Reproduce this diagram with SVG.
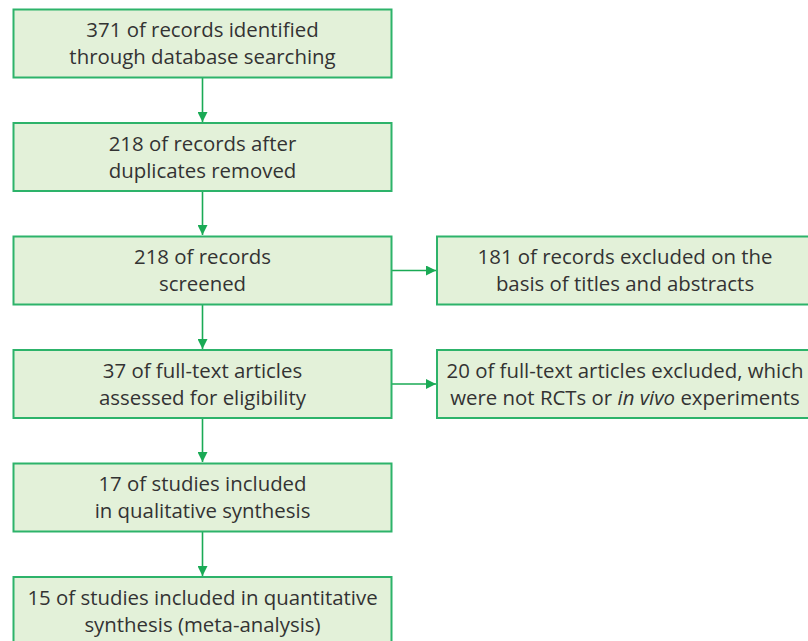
<svg xmlns="http://www.w3.org/2000/svg" width="808" height="641" viewBox="0 0 808 641">
<style>
.box{fill:#e3f1d9;stroke:#2db36a;stroke-width:2}
.t{font-family:"Open Sans","Noto Sans",sans-serif;font-size:20.4px;fill:#333;text-anchor:middle}
.c{stroke:#1aaa55;stroke-width:1.6;fill:none}
</style>
<defs>
<marker id="ah" viewBox="0 0 10 10" refX="10" refY="5" markerWidth="10" markerHeight="10" markerUnits="userSpaceOnUse" orient="auto">
<path d="M0,0 L10,5 L0,10 z" fill="#1aaa55"/>
</marker>
</defs>
<g id="connectors">
<line class="c" x1="202.5" y1="78" x2="202.5" y2="122" marker-end="url(#ah)"/>
<line class="c" x1="202.5" y1="191" x2="202.5" y2="235" marker-end="url(#ah)"/>
<line class="c" x1="202.5" y1="304" x2="202.5" y2="349" marker-end="url(#ah)"/>
<line class="c" x1="202.5" y1="418" x2="202.5" y2="462" marker-end="url(#ah)"/>
<line class="c" x1="202.5" y1="531" x2="202.5" y2="576" marker-end="url(#ah)"/>
<line class="c" x1="392" y1="270.5" x2="436" y2="270.5" marker-end="url(#ah)"/>
<line class="c" x1="392" y1="384" x2="436" y2="384" marker-end="url(#ah)"/>
</g>
<g id="n1"><rect class="box" x="13.5" y="9.5" width="378" height="68"/><text class="t" x="202.5" y="37">371 of records identified</text><text class="t" x="202.5" y="64">through database searching</text></g>
<g id="n2"><rect class="box" x="13.5" y="123" width="378" height="68"/><text class="t" x="202.5" y="150.5">218 of records after</text><text class="t" x="202.5" y="177.5">duplicates removed</text></g>
<g id="n3"><rect class="box" x="13.5" y="236.5" width="378" height="68"/><text class="t" x="202.5" y="264">218 of records</text><text class="t" x="202.5" y="291">screened</text></g>
<g id="n4"><rect class="box" x="13.5" y="350" width="378" height="68"/><text class="t" x="202.5" y="377.5">37 of full-text articles</text><text class="t" x="202.5" y="404.5">assessed for eligibility</text></g>
<g id="n5"><rect class="box" x="13.5" y="463.5" width="378" height="68"/><text class="t" x="202.5" y="491">17 of studies included</text><text class="t" x="202.5" y="518">in qualitative synthesis</text></g>
<g id="n6"><rect class="box" x="13.5" y="577" width="378" height="68"/><text class="t" x="202.5" y="604.5">15 of studies included in quantitative</text><text class="t" x="202.5" y="631.5">synthesis (meta-analysis)</text></g>
<g id="n7"><rect class="box" x="437" y="236.5" width="378" height="68"/><text class="t" x="625" y="264">181 of records excluded on the</text><text class="t" x="625" y="291">basis of titles and abstracts</text></g>
<g id="n8"><rect class="box" x="437" y="350" width="378" height="68"/><text class="t" x="625" y="377.5">20 of full-text articles excluded, which</text><text class="t" x="625" y="404.5">were not RCTs or <tspan font-style="italic">in vivo</tspan> experiments</text></g>
</svg>
